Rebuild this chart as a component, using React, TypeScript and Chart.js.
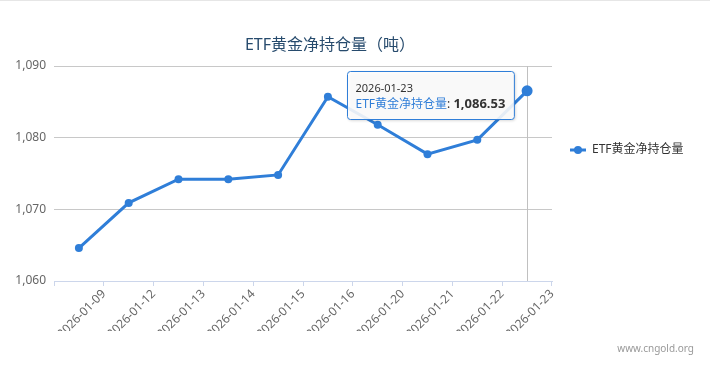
import React, { useEffect, useRef } from "react";
import { Chart, registerables } from "chart.js";

Chart.register(...registerables);

const categories = [
  "2026-01-09", "2026-01-12", "2026-01-13", "2026-01-14", "2026-01-15",
  "2026-01-16", "2026-01-20", "2026-01-21", "2026-01-22", "2026-01-23",
];
const holdings = [1064.6, 1070.9, 1074.2, 1074.2, 1074.8, 1085.7, 1081.8, 1077.7, 1079.7, 1086.53];
const seriesName = "ETF黄金净持仓量";
const chartTitle = "ETF黄金净持仓量（吨）";
const watermark = "www.cngold.org";
const yMin = 1060;
const yMax = 1090;
const yStep = 10;
const activeIndex = 9;

const BLUE = "#2f7ed8";
const FONT = '"Noto Sans", "Noto Sans CJK SC", sans-serif';

const fmt = (v: number, d = 0) =>
  v.toLocaleString("en-US", { minimumFractionDigits: d, maximumFractionDigits: d });

const overlay = {
  id: "overlay",
  beforeDatasetsDraw(chart: any) {
    const { ctx, chartArea } = chart;
    const pt = chart.getDatasetMeta(0).data[activeIndex];
    ctx.save();
    ctx.strokeStyle = "#c0c0c0";
    ctx.lineWidth = 1;
    ctx.beginPath();
    const x = Math.round(pt.x) + 0.5;
    ctx.moveTo(x, chartArea.top);
    ctx.lineTo(x, chartArea.bottom);
    ctx.stroke();
    ctx.restore();
  },
  afterDraw(chart: any) {
    const { ctx, width } = chart;
    ctx.save();
    // top border line
    ctx.fillStyle = "#e6e6e6";
    ctx.fillRect(0, 0, width, 1);

    // title
    ctx.fillStyle = "#274b6d";
    ctx.font = `16px ${FONT}`;
    ctx.textAlign = "center";
    ctx.textBaseline = "middle";
    ctx.fillText(chartTitle, 330, 45);

    // legend
    const ly = 150;
    ctx.strokeStyle = BLUE;
    ctx.lineWidth = 3;
    ctx.beginPath();
    ctx.moveTo(570, ly);
    ctx.lineTo(586, ly);
    ctx.stroke();
    ctx.fillStyle = BLUE;
    ctx.beginPath();
    ctx.arc(578, ly, 4, 0, Math.PI * 2);
    ctx.fill();
    ctx.fillStyle = "#333333";
    ctx.font = `12px ${FONT}`;
    ctx.textAlign = "left";
    ctx.fillText(seriesName, 592, ly);

    // watermark
    ctx.fillStyle = "#999999";
    ctx.font = `10px ${FONT}`;
    ctx.textAlign = "right";
    ctx.fillText(watermark, 694, 349);

    // tooltip
    const pt = chart.getDatasetMeta(0).data[activeIndex];
    const titleText = categories[activeIndex];
    const nameText = seriesName;
    const sepText = ": ";
    const valText = fmt(holdings[activeIndex], 2);
    ctx.font = `11px ${FONT}`;
    const tW = ctx.measureText(titleText).width;
    ctx.font = `12px ${FONT}`;
    const nW = ctx.measureText(nameText).width;
    const sW = ctx.measureText(sepText).width;
    ctx.font = `bold 13px ${FONT}`;
    const vW = ctx.measureText(valText).width;
    const bodyW = nW + sW + vW;
    const boxW = Math.max(tW, bodyW) + 17;
    const boxH = 48;
    const bx = Math.round(pt.x - 13 - boxW) + 0.5;
    const by = Math.round(pt.y - 20) + 0.5;

    ctx.save();
    ctx.shadowColor = "rgba(0,0,0,0.22)";
    ctx.shadowOffsetX = 1;
    ctx.shadowOffsetY = 1;
    ctx.shadowBlur = 3;
    ctx.fillStyle = "rgba(255,255,255,0.88)";
    ctx.beginPath();
    (ctx as any).roundRect(bx, by, boxW, boxH, 3);
    ctx.fill();
    ctx.restore();
    ctx.strokeStyle = BLUE;
    ctx.lineWidth = 1;
    ctx.beginPath();
    (ctx as any).roundRect(bx, by, boxW, boxH, 3);
    ctx.stroke();

    ctx.textAlign = "left";
    ctx.textBaseline = "middle";
    ctx.fillStyle = "#333333";
    ctx.font = `11px ${FONT}`;
    ctx.fillText(titleText, bx + 8, by + 17);
    const ty = by + 33;
    ctx.font = `12px ${FONT}`;
    ctx.fillStyle = BLUE;
    ctx.fillText(nameText, bx + 8, ty);
    ctx.fillStyle = "#333333";
    ctx.fillText(sepText, bx + 8 + nW, ty);
    ctx.font = `bold 13px ${FONT}`;
    ctx.fillText(valText, bx + 8 + nW + sW, ty);
    ctx.restore();
  },
};

export default function App() {
  const ref = useRef<HTMLCanvasElement>(null);
  useEffect(() => {
    document.body.style.margin = "0";
    const chart = new Chart(ref.current as HTMLCanvasElement, {
      type: "line",
      data: {
        labels: categories,
        datasets: [
          {
            label: seriesName,
            data: holdings,
            borderColor: BLUE,
            backgroundColor: BLUE,
            borderWidth: 3,
            pointRadius: (c: any) => (c.dataIndex === activeIndex ? 5.5 : 4),
            pointBackgroundColor: BLUE,
            pointBorderWidth: 0,
            tension: 0,
          },
        ],
      },
      options: {
        animation: false,
        responsive: false,
        layout: { padding: { top: 66, right: 158, bottom: 37, left: 0 } },
        plugins: { legend: { display: false }, title: { display: false }, tooltip: { enabled: false } },
        events: [],
        scales: {
          x: {
            offset: true,
            grid: { offset: true, drawOnChartArea: false, drawTicks: true, tickLength: 5, color: "#ccd6eb" },
            border: { color: "#ccd6eb", width: 1 },
            ticks: {
              minRotation: 45,
              maxRotation: 45,
              labelOffset: 25,
              padding: 1,
              color: "#666666",
              font: { family: FONT, size: 12 },
              autoSkip: false,
            },
            afterFit: (s: any) => {
              s.height = 50;
            },
          },
          y: {
            min: yMin,
            max: yMax,
            grid: { color: "#c8c8c8", drawTicks: false },
            border: { display: false },
            ticks: {
              stepSize: yStep,
              padding: 8,
              color: "#666666",
              font: { family: FONT, size: 12 },
              callback: (v: any) => fmt(Number(v)),
            },
            afterFit: (s: any) => {
              s.width = 54;
            },
          },
        },
      },
      plugins: [overlay],
    });
    return () => chart.destroy();
  }, []);
  return (
    <div style={{ width: 710, height: 368 }}>
      <canvas ref={ref} width={710} height={368} style={{ display: "block" }} />
    </div>
  );
}
